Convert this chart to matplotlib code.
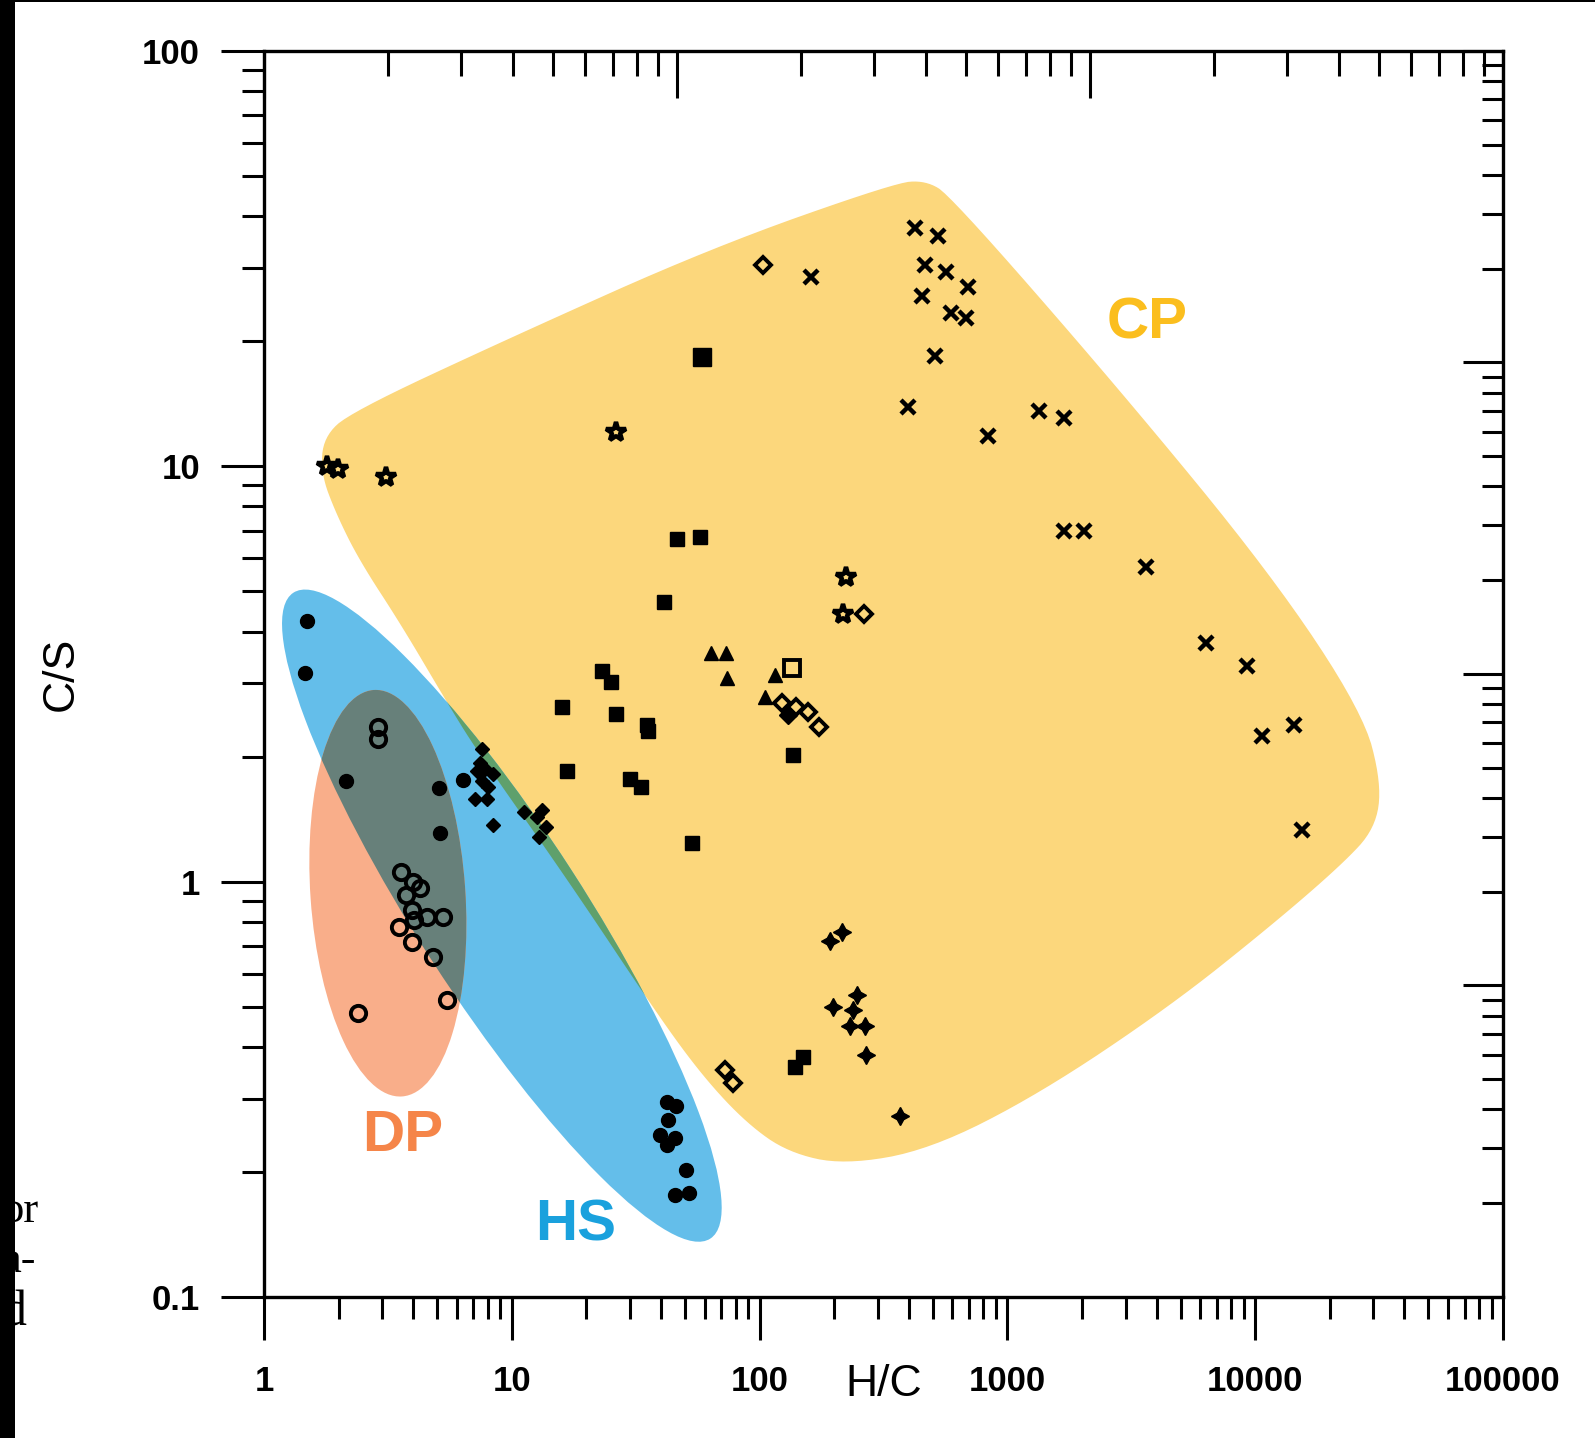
import numpy as np
import matplotlib
matplotlib.use("Agg")
import matplotlib.pyplot as plt
from matplotlib.patches import Ellipse, Polygon, Rectangle
from matplotlib.ticker import LogLocator, NullFormatter

# ---- values: (H/C, C/S) ----
hs_dot_x = [1.49, 1.46, 2.15, 5.08, 5.13, 6.38, 42.2, 46.0, 42.6, 39.5, 42.2, 45.5, 50.5, 45.5, 52.0]
hs_dot_y = [4.25, 3.17, 1.75, 1.68, 1.31, 1.76, 0.295, 0.288, 0.267, 0.245, 0.232, 0.242, 0.202, 0.176, 0.178]

hs_dia_x = [7.56, 7.42, 7.21, 7.78, 8.39, 7.56, 8.00, 7.08, 7.93, 8.39, 11.2, 12.6, 13.3, 13.8, 12.9]
hs_dia_y = [2.08, 1.93, 1.85, 1.87, 1.82, 1.75, 1.69, 1.58, 1.58, 1.37, 1.47, 1.43, 1.49, 1.35, 1.28]

dp_x = [2.88, 2.88, 3.58, 3.98, 4.25, 3.75, 3.94, 4.54, 5.28, 4.05, 3.51, 3.94, 4.80, 5.48, 2.39]
dp_y = [2.35, 2.21, 1.055, 0.997, 0.964, 0.927, 0.852, 0.823, 0.823, 0.810, 0.779, 0.715, 0.658, 0.519, 0.482]

sq_x = [46.4, 57.7, 41.0, 23.1, 25.1, 15.9, 26.3, 35.0, 35.3, 16.7, 30.0, 33.3, 53.5, 136, 139, 150]
sq_y = [6.67, 6.74, 4.70, 3.21, 3.03, 2.63, 2.53, 2.38, 2.31, 1.85, 1.77, 1.69, 1.24, 2.02, 0.357, 0.379]
big_sq_x = [58.8]
big_sq_y = [18.3]

osq_x = [135]
osq_y = [3.26]

tri_x = [63.4, 73.1, 73.8, 115, 105]
tri_y = [3.55, 3.55, 3.10, 3.15, 2.79]

odia_x = [103, 264, 123, 140, 157, 174, 72.4, 78.0]
odia_y = [30.6, 4.40, 2.69, 2.63, 2.56, 2.36, 0.351, 0.328]
fdia_x = [130]
fdia_y = [2.52]

star_x = [1.80, 1.99, 3.11, 26.3, 223, 217]
star_y = [10.0, 9.85, 9.42, 12.1, 5.42, 4.42]

cross_x = [162, 424, 527, 466, 563, 693, 453, 590, 680, 512, 397, 1343, 1685, 837,
           1685, 2036, 3624, 6328, 9237, 10642, 14400, 15390]
cross_y = [28.5, 37.5, 35.8, 30.6, 29.3, 27.0, 25.7, 23.4, 22.8, 18.4, 13.9, 13.6, 13.1, 11.8,
           6.98, 6.98, 5.73, 3.75, 3.30, 2.24, 2.38, 1.33]

spark_x = [192, 215, 247, 197, 238, 231, 267, 269, 368]
spark_y = [0.719, 0.757, 0.533, 0.499, 0.490, 0.450, 0.450, 0.383, 0.273]

xticks = [1, 10, 100, 1000, 10000, 100000]
xtick_labels = ["1", "10", "100", "1000", "10000", "100000"]
yticks = [0.1, 1, 10, 100]
ytick_labels = ["0.1", "1", "10", "100"]

# outline of the CP field (axes fraction), smoothed below
cp_u = [0.070, 0.197, 0.361, 0.509, 0.534, 0.554, 0.690, 0.813, 0.887, 0.902, 0.897, 0.870,
        0.813, 0.731, 0.626, 0.537, 0.468, 0.423, 0.390, 0.355, 0.318, 0.245, 0.172, 0.146,
        0.111, 0.077, 0.058, 0.046, 0.048]
cp_v = [0.710, 0.769, 0.842, 0.894, 0.896, 0.884, 0.729, 0.580, 0.469, 0.412, 0.376, 0.347,
        0.298, 0.233, 0.163, 0.118, 0.106, 0.116, 0.139, 0.176, 0.226, 0.335, 0.438, 0.480,
        0.539, 0.591, 0.629, 0.661, 0.690]

yellow = "#FCD77C"
blue = "#64BEEA"
orange = "#F9AE8A"
gray = "#67807A"
green = "#5FA06C"


def chaikin(pts, n=3):
    for _ in range(n):
        p = np.asarray(pts)
        q = np.roll(p, -1, axis=0)
        out = np.empty((2 * len(p), 2))
        out[0::2] = 0.75 * p + 0.25 * q
        out[1::2] = 0.25 * p + 0.75 * q
        pts = out
    return pts


plt.rcParams['font.family'] = ['Liberation Sans', 'DejaVu Sans']

fig = plt.figure(figsize=(15.95, 14.38), dpi=100)
ax = fig.add_axes([0.1655, 0.0981, 0.7768, 0.8665])
ax.set_xscale('log')
ax.set_yscale('log')
ax.set_xlim(1, 100000)
ax.set_ylim(0.1, 100)

# shaded fields
cp_pts = chaikin(np.column_stack([cp_u, cp_v]), 3)
cp = Polygon(cp_pts, closed=True, transform=ax.transAxes, fc=yellow, ec='none', zorder=1)
ax.add_patch(cp)
hs = Ellipse((0.192, 0.306), 0.618, 0.134, angle=-57, transform=ax.transAxes,
             fc=blue, ec='none', zorder=2)
ax.add_patch(hs)
cp_hs = Polygon(cp_pts, closed=True, transform=ax.transAxes, fc=green, ec='none', zorder=3)
ax.add_patch(cp_hs)
cp_hs.set_clip_path(hs)
dp = Ellipse((0.100, 0.324), 0.125, 0.327, angle=4, transform=ax.transAxes,
             fc=orange, ec='none', zorder=4)
ax.add_patch(dp)
dp_hs = Ellipse((0.100, 0.324), 0.125, 0.327, angle=4, transform=ax.transAxes,
                fc=gray, ec='none', zorder=5)
ax.add_patch(dp_hs)
dp_hs.set_clip_path(hs)

# points
k = dict(color='black', ls='none', zorder=10)
ax.plot(hs_dot_x, hs_dot_y, marker='o', ms=10, **k)
ax.plot(hs_dia_x, hs_dia_y, marker='D', ms=7.5, **k)
ax.plot(dp_x, dp_y, marker='o', ms=11, mfc='none', mew=2.8, **k)
ax.plot(sq_x, sq_y, marker='s', ms=10.5, **k)
ax.plot(big_sq_x, big_sq_y, marker='s', ms=12.5, **k)
ax.plot(osq_x, osq_y, marker='s', ms=12, mfc='none', mew=2.8, **k)
ax.plot(tri_x, tri_y, marker='^', ms=10.5, **k)
ax.plot(odia_x, odia_y, marker='D', ms=8.5, mfc='none', mew=2.8, **k)
ax.plot(fdia_x, fdia_y, marker='D', ms=9, **k)
ax.plot(star_x, star_y, marker='*', ms=15, mfc='none', mew=3.2, **k)
ax.plot(cross_x, cross_y, marker='x', ms=10, mew=3.2, **k)
ax.plot(spark_x, spark_y, marker=(4, 1, 0), ms=13, **k)

ax.text(0.7126, 0.7812, "CP", transform=ax.transAxes, color="#FBBE1E", fontsize=42,
        fontweight='bold', ha='center', va='center')
ax.text(0.1117, 0.129, "DP", transform=ax.transAxes, color="#F58549", fontsize=42,
        fontweight='bold', ha='center', va='center')
ax.text(0.2512, 0.0571, "HS", transform=ax.transAxes, color="#1AA1DD", fontsize=42,
        fontweight='bold', ha='center', va='center')

# axes, ticks
for s in ax.spines.values():
    s.set_linewidth(2.4)
ax.set_xticks(xticks, labels=xtick_labels)
ax.set_yticks(yticks, labels=ytick_labels)
ax.xaxis.set_minor_locator(LogLocator(subs=np.arange(2, 10), numticks=100))
ax.yaxis.set_minor_locator(LogLocator(subs=np.arange(2, 10), numticks=100))
ax.xaxis.set_minor_formatter(NullFormatter())
ax.yaxis.set_minor_formatter(NullFormatter())
ax.tick_params(axis='both', which='major', direction='out', length=31, width=2.2, labelsize=25)
ax.tick_params(axis='y', which='major', pad=15)
ax.tick_params(axis='x', which='major', pad=18)
ax.tick_params(axis='both', which='minor', direction='out', length=16, width=2.2)
for lab in ax.get_xticklabels() + ax.get_yticklabels():
    lab.set_fontweight('bold')

ax.set_xlabel("H/C", fontsize=32)
ax.xaxis.set_label_coords(0.5, -0.0706)
ax.xaxis.label.set_va('center')
ax.set_ylabel("C/S", fontsize=32)
ax.yaxis.set_label_coords(-0.164, 0.5)
ax.yaxis.label.set_va('center')

# the scanned frame has its own tick scales on top and right
ax_top = ax.twiny()
ax_top.set_xscale('log')
ax_top.set_xlim(1, 1000)
ax_top.xaxis.set_minor_locator(LogLocator(subs=np.arange(2, 10), numticks=100))
ax_top.tick_params(axis='x', which='major', direction='in', length=34, width=2.2, labeltop=False)
ax_top.tick_params(axis='x', which='minor', direction='in', length=18, width=2.2, labeltop=False)
ax_top.xaxis.set_minor_formatter(NullFormatter())

ax_r = ax.twinx()
ax_r.set_yscale('log')
ax_r.set_ylim(0.01, 100)
ax_r.yaxis.set_minor_locator(LogLocator(subs=np.arange(2, 10), numticks=100))
ax_r.tick_params(axis='y', which='major', direction='in', length=29, width=2.2, labelright=False)
ax_r.tick_params(axis='y', which='minor', direction='in', length=15, width=2.2, labelright=False)
ax_r.yaxis.set_minor_formatter(NullFormatter())

# bits of the neighbouring page and the scan edge
serif = ['Liberation Serif', 'DejaVu Serif']
fig.text(1 / 1595, 1 - 1222 / 1438, "or", ha='left', va='baseline', fontsize=32, family=serif)
fig.text(1 / 1595, 1 - 1272 / 1438, "a-", ha='left', va='baseline', fontsize=32, family=serif)
fig.text(1 / 1595, 1 - 1325 / 1438, "d", ha='left', va='baseline', fontsize=36, family=serif)
fig.patches.append(Rectangle((0, 0), 15 / 1595, 1, transform=fig.transFigure,
                             fc='black', ec='none', zorder=20))
fig.patches.append(Rectangle((0, 1 - 2 / 1438), 1, 2 / 1438, transform=fig.transFigure,
                             fc='black', ec='none', zorder=20))

fig.savefig("out.png", dpi=100)
